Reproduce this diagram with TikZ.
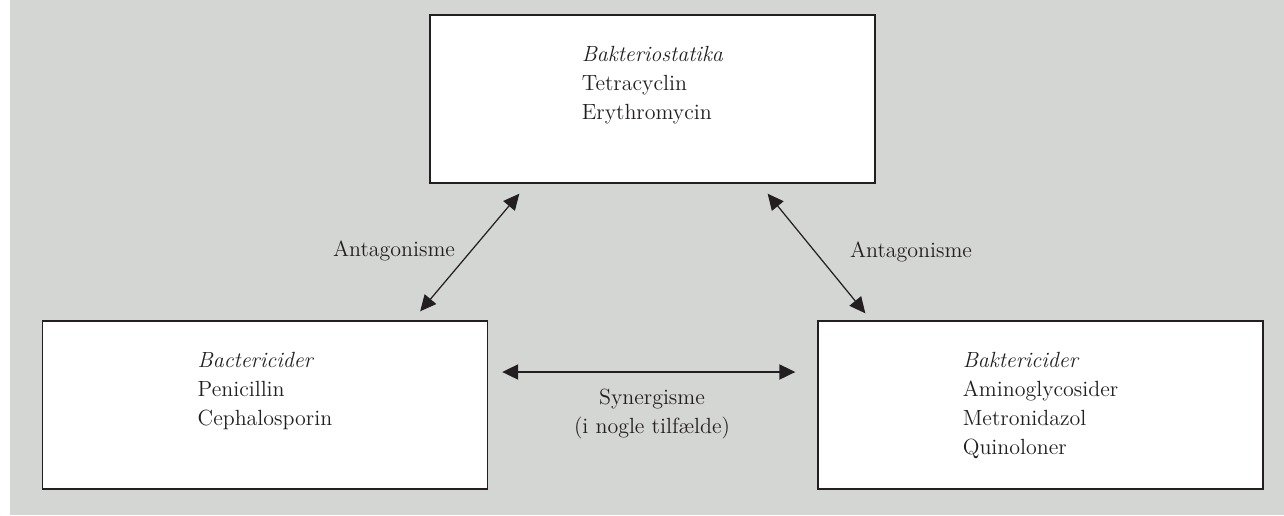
\documentclass[tikz,border=0pt]{standalone}
\usepackage{tikz}
\usetikzlibrary{positioning,arrows.meta}
\definecolor{bggray}{RGB}{212,214,211}
\definecolor{ink}{RGB}{35,31,32}

\begin{document}
\begin{tikzpicture}[x=0.02cm, y=-0.02cm,
  blk/.style={draw=ink, line width=0.8pt, fill=white, minimum width=8.9cm, minimum height=3.36cm},
  txt/.style={anchor=north, inner sep=0pt, align=left, text=ink, font=\fontsize{12.5}{16.5}\selectfont, yshift=-0.64cm},
  lbl/.style={inner sep=0pt, text=ink, font=\fontsize{12.5}{16.5}\selectfont},
  link/.style={<->, draw=ink, line width=0.7pt},
  >={Triangle[length=3.2mm,width=3mm]}]
\useasboundingbox (0,0) rectangle (1284,515);
\fill[bggray] (10,0) rectangle (1284,515);
% the three groups
\node[blk] (stat) at (652.5,99)  {};
\node[blk] (bact) at (265,405)   {};
\node[blk] (bakt) at (1040.5,405) {};
\node[txt] (statTxt) at (stat.north) {\textit{Bakteriostatika}\\Tetracyclin\\Erythromycin};
\node[txt] (bactTxt) at (bact.north) {\textit{Bactericider}\\Penicillin\\Cephalosporin};
\node[txt] (baktTxt) at (bakt.north) {\textit{Baktericider}\\Aminoglycosider\\Metronidazol\\Quinoloner};
% interactions
\draw[link] ([shift={(-68,-9)}]bact.north east) -- ([shift={(90,10)}]stat.south west);
\draw[link] ([shift={(-108,10)}]stat.south east) -- ([shift={(48,-7)}]bakt.north west);
\draw[link, line width=1.1pt] ([shift={(14,-33)}]bact.east) -- ([shift={(-22,-33)}]bakt.west);
\node[lbl, anchor=base] (antL) at (394,256) {Antagonisme};
\node[lbl, anchor=base] (antR) at (911,257) {Antagonisme};
\node[lbl, anchor=north, align=center] (syn) at (652,389) {Synergisme\\(i nogle tilfælde)};
\end{tikzpicture}
\end{document}
